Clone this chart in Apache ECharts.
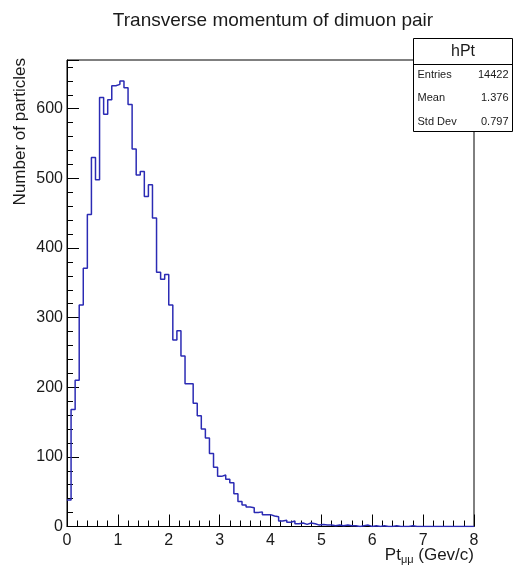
<!DOCTYPE html>
<html>
<head>
<meta charset="utf-8">
<script src="https://cdn.jsdelivr.net/npm/echarts@6/dist/echarts.min.js"></script>
<style>
html,body{margin:0;padding:0;background:#fff;}
#c{width:514px;height:570px;}
</style>
</head>
<body>
<div id="c"></div>
<script>
// Histogram hPt: 100 bins from 0 to 8 GeV/c
const binLow = 0;
const binWidth = 0.08;
const counts = [
  38, 168, 210, 318, 371, 448, 530, 498, 616, 592,
  613, 633, 635, 640, 630, 606, 542, 505, 510, 474,
  491, 443, 365, 355, 362, 318, 268, 281, 245, 205,
  205, 177, 159, 140, 127, 105, 85, 72, 74, 68,
  63, 47, 36, 31, 28, 27, 20, 21, 17, 17,
  15, 14, 8, 9, 6, 8, 4, 5, 3, 5,
  4, 2, 3, 2, 2, 1, 2, 1, 2, 1,
  1, 0, 1, 2, 0, 1, 0, 1, 0, 0,
  1, 0, 0, 0, 1, 0, 0, 0, 0, 0,
  0, 0, 0, 0, 0, 0, 0, 0, 0, 0
];
const xTicks = [0, 1, 2, 3, 4, 5, 6, 7, 8];
const yTicks = [0, 100, 200, 300, 400, 500, 600];
const statsNames = ['Entries', 'Mean', 'Std Dev'];
const statsValues = ['14422', '1.376', '0.797'];
const histName = 'hPt';
const titleText = 'Transverse momentum of dimuon pair';
const yTitle = 'Number of particles';

// step line points built from bin edges
const pts = counts.map((v, i) => [binLow + i * binWidth, v]);
pts.push([binLow + counts.length * binWidth, counts[counts.length - 1]]);

const FONT = '"Liberation Sans", Arial, sans-serif';
const TXT = '#1a1a1a';
const chart = echarts.init(document.getElementById('c'), null, {renderer: 'canvas'});

const statsX = 413.5, statsY = 38.5, statsW = 99, statsH = 93;
const graphics = [
  {type: 'rect', shape: {x: statsX, y: statsY, width: statsW, height: statsH},
   style: {fill: '#fff', stroke: '#000', lineWidth: 1}, z: 100},
  {type: 'line', shape: {x1: statsX, y1: statsY + 26, x2: statsX + statsW, y2: statsY + 26},
   style: {stroke: '#000', lineWidth: 1}, z: 101},
  {type: 'text', x: statsX + statsW / 2, y: statsY + 13,
   style: {text: histName, font: '16px ' + FONT, fill: TXT, align: 'center', verticalAlign: 'middle'}, z: 101}
];
statsNames.forEach((n, i) => {
  const yy = statsY + 36 + i * 23.5;
  graphics.push({type: 'text', x: statsX + 4, y: yy,
    style: {text: n, font: '11px ' + FONT, fill: TXT, align: 'left', verticalAlign: 'middle'}, z: 101});
  graphics.push({type: 'text', x: statsX + statsW - 4, y: yy,
    style: {text: statsValues[i], font: '11px ' + FONT, fill: TXT, align: 'right', verticalAlign: 'middle'}, z: 101});
});
graphics.push({type: 'text', x: 20, y: 58, rotation: Math.PI / 2,
  style: {text: yTitle, font: '17px ' + FONT, fill: TXT, align: 'right', verticalAlign: 'middle'}});
graphics.push({type: 'text', x: 474, y: 555,
  style: {text: '{a|Pt}{b|μμ}{a| (Gev/c)}', align: 'right', verticalAlign: 'middle',
    rich: {a: {font: '17px ' + FONT, fill: TXT},
           b: {font: '11px ' + FONT, fill: TXT, padding: [9, 0, 0, 0]}}}});

chart.setOption({
  animation: false,
  backgroundColor: '#fff',
  title: {text: titleText, left: 272, top: 6, textAlign: 'center',
    textStyle: {fontFamily: FONT, fontSize: 19, fontWeight: 'normal', color: TXT}},
  grid: {left: 67, right: 40, top: 60, bottom: 43.5, show: true, borderColor: '#000', borderWidth: 1, backgroundColor: 'transparent'},
  xAxis: {
    type: 'value', min: xTicks[0], max: xTicks[xTicks.length - 1], interval: 1,
    axisLine: {show: true, onZero: false, lineStyle: {color: '#000', width: 1}},
    axisTick: {show: true, inside: true, length: 12, lineStyle: {color: '#000'}},
    minorTick: {show: true, splitNumber: 5, length: 6, lineStyle: {color: '#000'}},
    splitLine: {show: false},
    axisLabel: {show: true, margin: 6, fontFamily: FONT, fontSize: 16, color: TXT,
      formatter: v => xTicks.includes(v) ? String(v) : ''}
  },
  yAxis: {
    type: 'value', min: 0, max: 670, interval: 100,
    axisLine: {show: true, onZero: false, lineStyle: {color: '#000', width: 1}},
    axisTick: {show: true, inside: true, length: 12, lineStyle: {color: '#000'}},
    minorTick: {show: true, splitNumber: 5, length: 6, lineStyle: {color: '#000'}},
    splitLine: {show: false},
    axisLabel: {show: true, margin: 4, fontFamily: FONT, fontSize: 16, color: TXT,
      formatter: v => yTicks.includes(v) ? String(v) : ''}
  },
  series: [{
    type: 'line', step: 'end', data: pts, symbol: 'none', clip: true,
    lineStyle: {color: '#2b2bb4', width: 1.5}
  }],
  graphic: graphics
});
chart.setOption({title: {left: 268}});
</script>
</body>
</html>
